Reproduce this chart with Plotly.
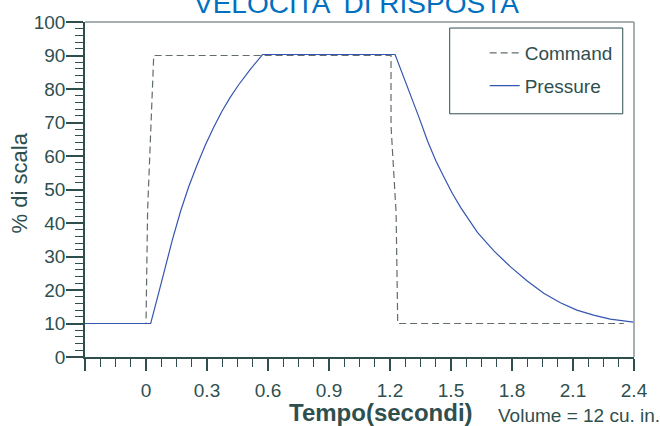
import plotly.graph_objects as go

# ---- data ----
title_text = "VELOCITA' DI RISPOSTA"
x_title = "Tempo(secondi)"
y_title = "% di scala"
note_text = "Volume = 12 cu. in."

command_t = [-0.3, 0.0, 0.008, 0.022, 0.038, 1.205, 1.205, 1.23, 1.238, 2.35]
command_v = [10, 10, 44, 67, 90, 90, 69, 43, 10, 10]

pressure_t = [-0.3, 0.023, 0.064, 0.096, 0.129, 0.170, 0.210, 0.251, 0.292, 0.333,
              0.373, 0.414, 0.455, 0.512, 0.573, 1.225, 1.263, 1.303, 1.344, 1.385,
              1.426, 1.467, 1.507, 1.548, 1.589, 1.630, 1.712, 1.793, 1.875, 1.956,
              2.038, 2.119, 2.201, 2.283, 2.397]
pressure_v = [10, 10, 19.5, 27.0, 34.8, 43.5, 50.8, 57.3, 63.3, 68.6,
              73.3, 77.5, 81.2, 85.8, 90.3, 90.3, 84.2, 78.3, 71.3, 64.4,
              58.5, 53.5, 48.8, 44.6, 40.7, 37.2, 31.6, 26.9, 22.7, 19.0,
              16.2, 14.0, 12.5, 11.3, 10.4]

x_tickvals = [-0.3, 0, 0.3, 0.6, 0.9, 1.2, 1.5, 1.8, 2.1, 2.4]
x_ticktext = ["", "0", "0.3", "0.6", "0.9", "1.2", "1.5", "1.8", "2.1", "2.4"]
y_tickvals = [0, 10, 20, 30, 40, 50, 60, 70, 80, 90, 100]

AX = "#2f4f4f"
FRAME = "#8a9696"
FONT = "Liberation Sans, Arial, sans-serif"

fig = go.Figure()
fig.add_trace(go.Scatter(x=command_t, y=command_v, mode="lines", name="Command",
                         legendgroup="c",
                         line=dict(color="#626c6c", width=1.2, dash="7px,4px")))
fig.add_trace(go.Scatter(x=pressure_t, y=pressure_v, mode="lines", name="Pressure",
                         legendgroup="p",
                         line=dict(color="#3556b0", width=1.2)))

fig.update_layout(
    width=660, height=426,
    margin=dict(l=85, r=23, t=20, b=69),
    paper_bgcolor="white", plot_bgcolor="white",
    font=dict(family=FONT, color=AX),
    showlegend=True,
    legend=dict(x=0.728, xanchor="left", y=0.964, yanchor="top",
                bgcolor="rgba(0,0,0,0)", borderwidth=0,
                font=dict(size=19, color=AX), tracegroupgap=5),
    xaxis=dict(range=[-0.3, 2.4], tickmode="array", tickvals=x_tickvals, ticktext=x_ticktext,
               ticks="outside", ticklen=12, tickwidth=1.5, tickcolor=AX,
               showline=True, linecolor=AX, linewidth=1.5,
               showgrid=False, zeroline=False, ticklabelstandoff=3,
               tickfont=dict(size=19, color=AX),
               minor=dict(tickmode="linear", tick0=-0.3, dtick=0.075, ticks="outside",
                          ticklen=8, tickwidth=1.2, tickcolor=AX, showgrid=False)),
    yaxis=dict(range=[0, 100], tickmode="array", tickvals=y_tickvals,
               ticks="outside", ticklen=17, tickwidth=1.5, tickcolor=AX,
               showline=True, linecolor=AX, linewidth=1.5,
               showgrid=False, zeroline=False, ticklabelstandoff=-3,
               tickfont=dict(size=19, color=AX),
               minor=dict(tickmode="linear", tick0=0, dtick=2, ticks="outside",
                          ticklen=8, tickwidth=1.2, tickcolor=AX, showgrid=False)),
    shapes=[
        dict(type="line", xref="paper", yref="paper", x0=0, x1=1, y0=1, y1=1,
             line=dict(color=FRAME, width=1.5)),
        dict(type="line", xref="paper", yref="paper", x0=1, x1=1, y0=0, y1=1,
             line=dict(color=FRAME, width=1.5)),
        dict(type="rect", xref="paper", yref="paper", x0=0.6643, x1=0.9795, y0=0.726, y1=0.982,
             line=dict(color=AX, width=1), fillcolor="rgba(0,0,0,0)"),
    ],
    annotations=[
        dict(text=title_text, xref="paper", yref="paper", x=(357.5 - 85) / 552,
             y=(357 - 1) / 337, xanchor="center", yanchor="middle", showarrow=False,
             font=dict(size=28, color="#0070c0", family=FONT)),
        dict(text="<b>" + x_title + "</b>", xref="paper", yref="paper", x=(383 - 85) / 552,
             y=(357 - 413) / 337, xanchor="center", yanchor="middle", showarrow=False,
             font=dict(size=24, color=AX, family=FONT)),
        dict(text=note_text, xref="paper", yref="paper", x=(498 - 85) / 552,
             y=(357 - 416) / 337, xanchor="left", yanchor="middle", showarrow=False,
             font=dict(size=19, color=AX, family=FONT)),
        dict(text=y_title, xref="paper", yref="paper", x=(19 - 85) / 552,
             y=(357 - 182) / 337, xanchor="center", yanchor="middle", showarrow=False,
             textangle=-90, font=dict(size=22, color=AX, family=FONT)),
    ],
)

fig.write_html("out.html", config={"displayModeBar": False},
               post_script="document.body.style.margin='0';")
